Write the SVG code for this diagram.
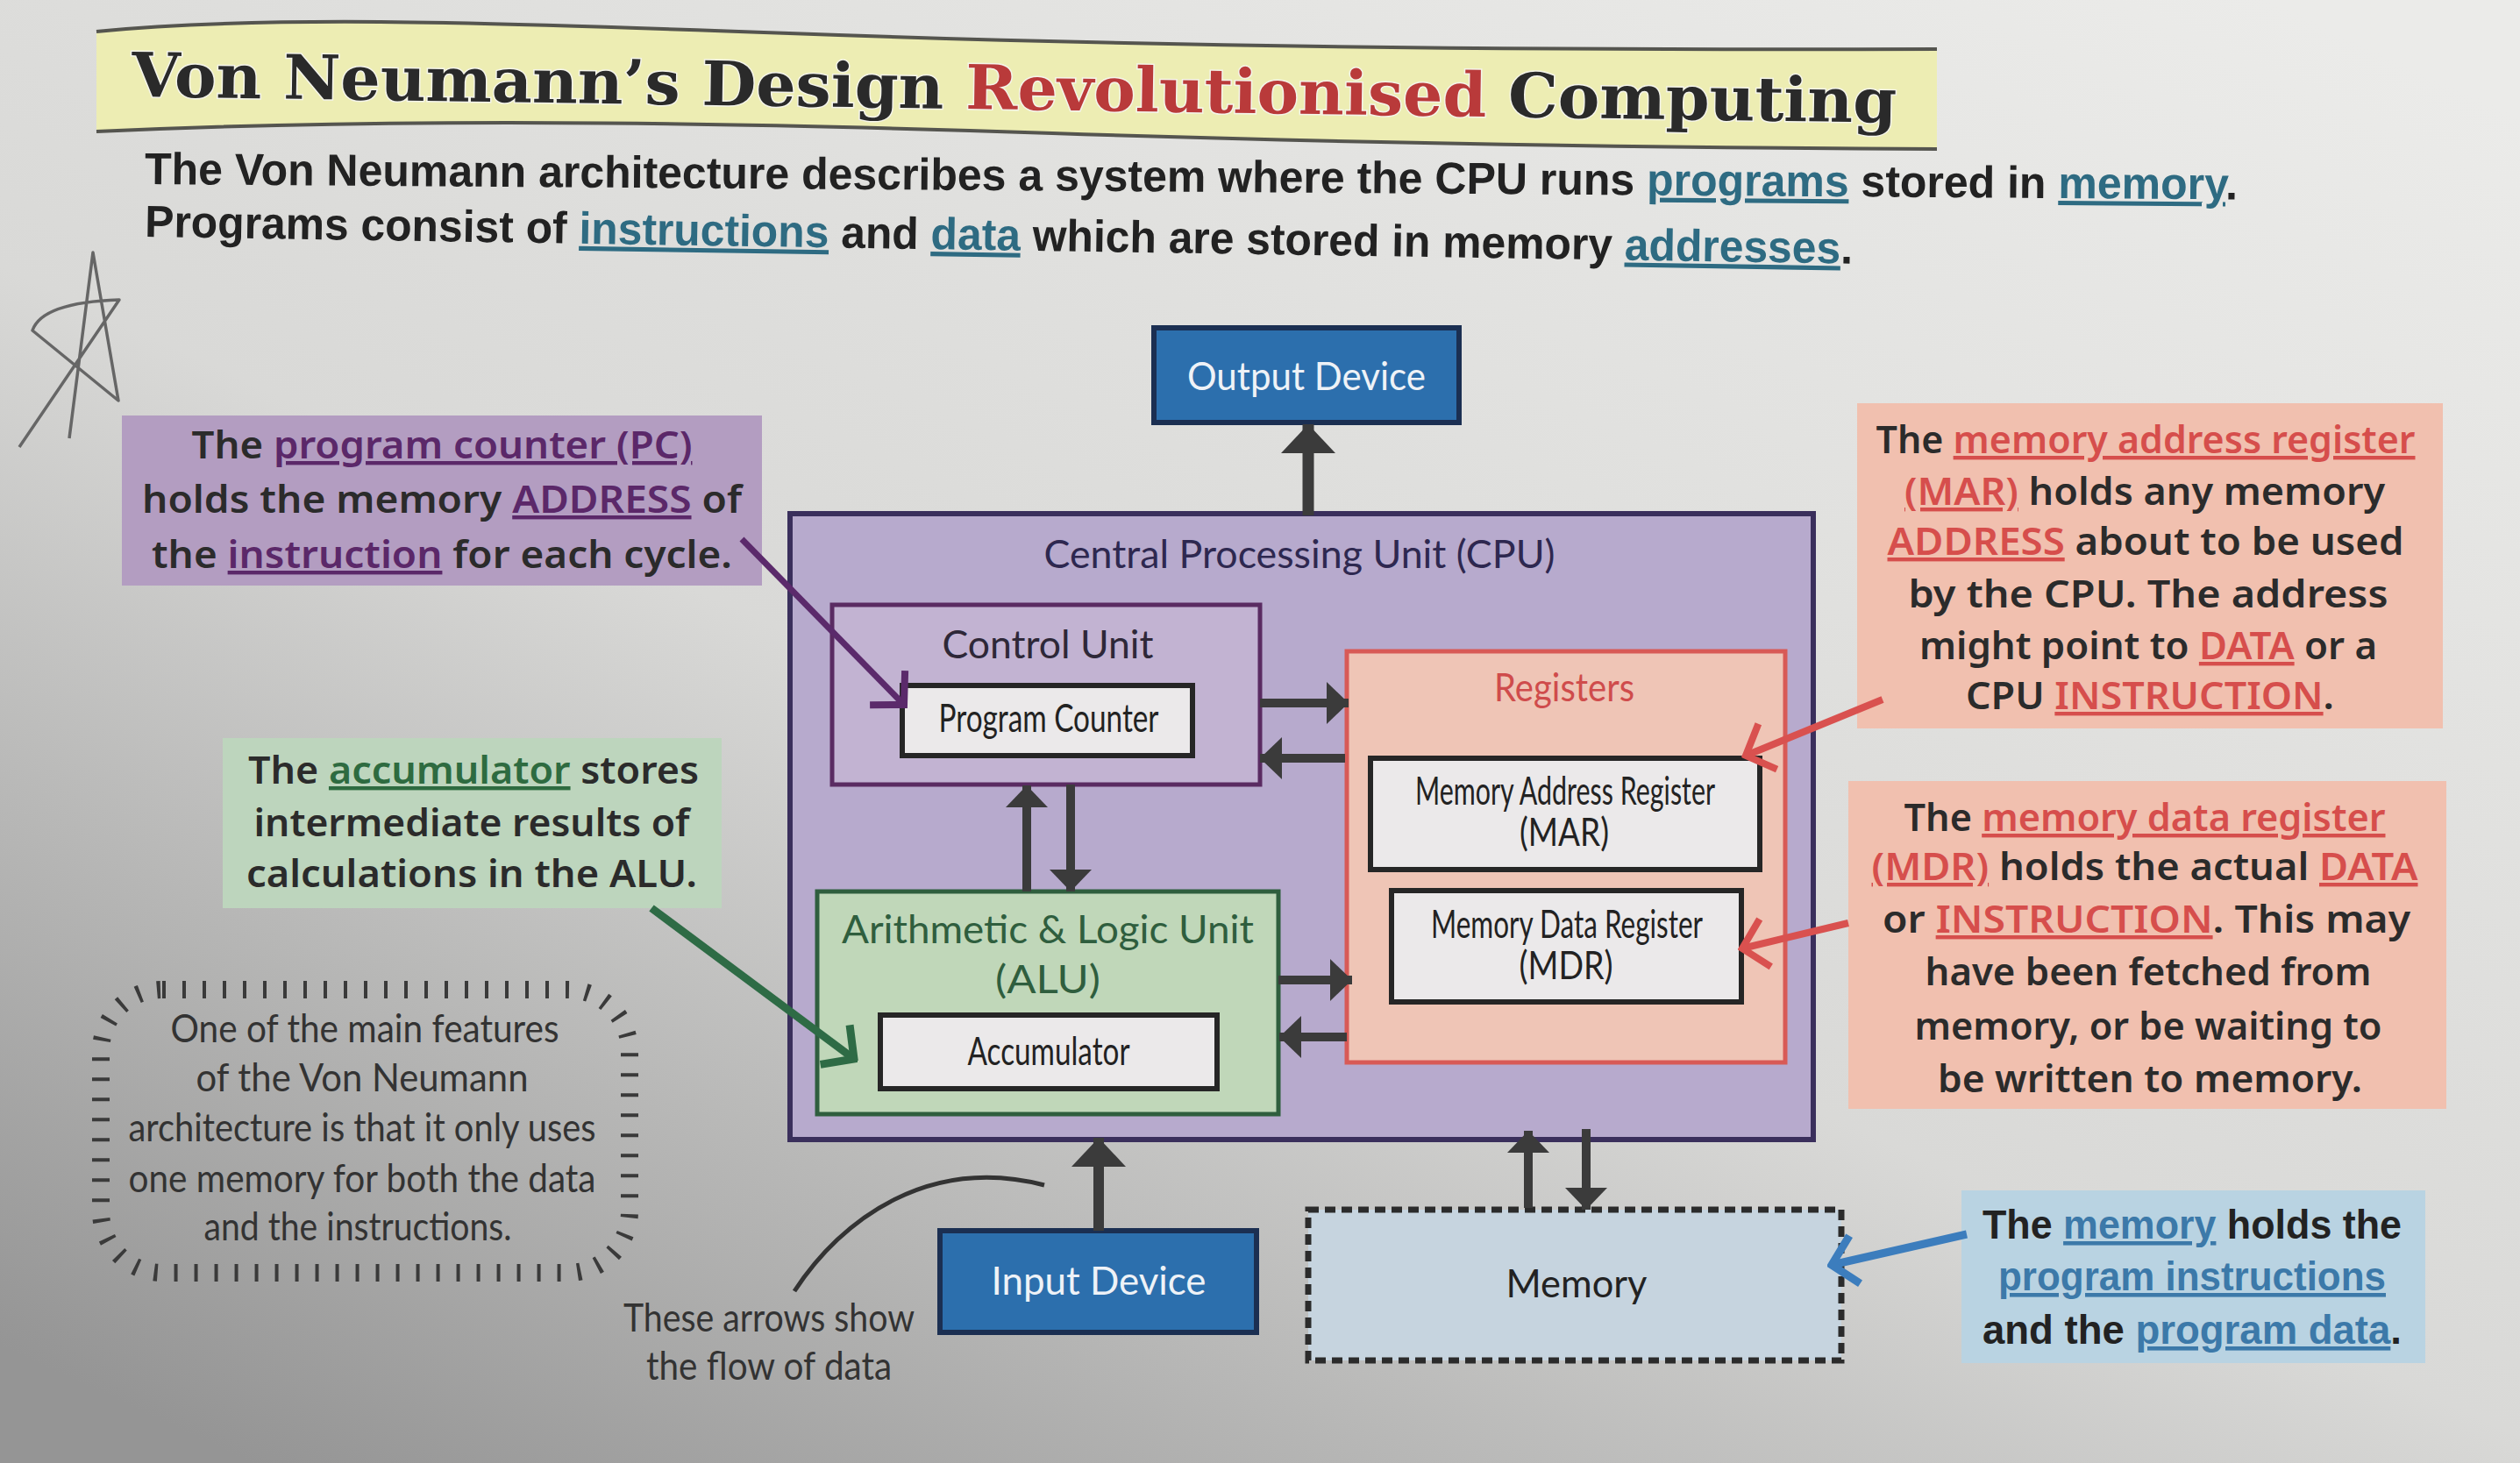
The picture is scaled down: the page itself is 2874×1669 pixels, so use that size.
<svg xmlns="http://www.w3.org/2000/svg" width="2874" height="1669" viewBox="0 0 2874 1669">
<defs>
<linearGradient id="bg" x1="0.9" y1="0" x2="0.1" y2="1">
<stop offset="0" stop-color="#ebebe9"/>
<stop offset="0.55" stop-color="#d9d9d7"/>
<stop offset="1" stop-color="#959595"/>
</linearGradient>
<marker id="ahBig" viewBox="0 0 33 62" refX="33" refY="31" markerWidth="33" markerHeight="62" orient="auto" markerUnits="userSpaceOnUse"><path d="M0,0 L33,31 L0,62 Z" fill="#3b3b3b"/></marker>
<marker id="ahSm" viewBox="0 0 25 48" refX="25" refY="24" markerWidth="25" markerHeight="48" orient="auto" markerUnits="userSpaceOnUse"><path d="M0,0 L25,24 L0,48 Z" fill="#3b3b3b"/></marker>
<marker id="chPurple" viewBox="-4 -4 36 64" refX="27" refY="28" markerWidth="36" markerHeight="64" orient="auto" markerUnits="userSpaceOnUse"><path d="M0,0 L27,28 L0,56" fill="none" stroke="#5b2a6b" stroke-width="8"/></marker>
<marker id="chGreen" viewBox="-4 -4 36 64" refX="27" refY="28" markerWidth="36" markerHeight="64" orient="auto" markerUnits="userSpaceOnUse"><path d="M0,0 L27,28 L0,56" fill="none" stroke="#2e6b45" stroke-width="9"/></marker>
<marker id="chRed" viewBox="-4 -4 36 64" refX="27" refY="28" markerWidth="36" markerHeight="64" orient="auto" markerUnits="userSpaceOnUse"><path d="M0,0 L27,28 L0,56" fill="none" stroke="#d9514f" stroke-width="8"/></marker>
<marker id="chBlue" viewBox="-4 -4 36 64" refX="27" refY="28" markerWidth="36" markerHeight="64" orient="auto" markerUnits="userSpaceOnUse"><path d="M0,0 L27,28 L0,56" fill="none" stroke="#3c7dbd" stroke-width="9"/></marker>
<style>
.lbl{font-family:Lato,"Open Sans",sans-serif;font-weight:400;font-size:44px;text-anchor:middle}
.cal{font-family:"Noto Sans","Open Sans",sans-serif;font-weight:600;font-size:44px;fill:#2b2b2b;text-anchor:middle}
.cond{font-family:"Liberation Sans",Arial,sans-serif;font-weight:700;fill:#222}
.u{text-decoration:underline;text-decoration-thickness:4px}
.box{stroke-width:5}
.flow{stroke:#3b3b3b;fill:none}
.dev{fill:#2c6fad;stroke:#1b2f52;stroke-width:6}
.devt{fill:#eef2f7}
.reg{fill:#ebe9ea;stroke:#262626;stroke-width:6}
</style>
</defs>

<rect x="0" y="0" width="2874" height="1669" fill="url(#bg)"/>

<g id="doodle">
<path d="M79,500 L106,288 L135,457 L37,377 Q48,345 136,342 L22,510" fill="none" stroke="#666" stroke-width="3.5" stroke-linejoin="round"/>
</g>

<g id="title">
<path d="M110,36 C300,18 520,24 900,38 S1700,58 2209,56 L2209,170 C1800,168 1500,162 1200,152 S500,132 110,150 Z" fill="#ededb3"/>
<path d="M110,36 C300,18 520,24 900,38 S1700,58 2209,56" fill="none" stroke="#55554f" stroke-width="4"/>
<path d="M2209,170 C1800,168 1500,162 1200,152 S500,132 110,150" fill="none" stroke="#55554f" stroke-width="4"/>
<text x="150" y="110" transform="rotate(0.85 150 110)" textLength="2013" lengthAdjust="spacingAndGlyphs" style="font-family:'DejaVu Serif',serif;font-weight:700;font-size:70px;fill:#2a2a2a;stroke:#f4f4ea;stroke-width:3;paint-order:stroke">Von Neumann’s Design <tspan fill="#b93a3a">Revolutionised</tspan> Computing</text>
</g>

<g id="intro">
<text class="cond" x="165" y="210" transform="rotate(0.42 165 210)" font-size="51" textLength="2387" lengthAdjust="spacingAndGlyphs">The Von Neumann architecture describes a system where the CPU runs <tspan class="u" fill="#2e6b82">programs</tspan> stored in <tspan class="u" fill="#2e6b82">memory</tspan>.</text>
<text class="cond" x="165" y="270" transform="rotate(0.9 165 270)" font-size="51" textLength="1948" lengthAdjust="spacingAndGlyphs">Programs consist of <tspan class="u" fill="#2e6b82">instructions</tspan> and <tspan class="u" fill="#2e6b82">data</tspan> which are stored in memory <tspan class="u" fill="#2e6b82">addresses</tspan>.</text>
</g>

<g id="callout-pc">
<rect x="139" y="474" width="730" height="194" fill="#b39dc1"/>
<text class="cal" x="504" y="523" textLength="571" lengthAdjust="spacingAndGlyphs">The <tspan class="u" fill="#5b2869">program counter (PC)</tspan></text>
<text class="cal" x="504" y="585" textLength="684" lengthAdjust="spacingAndGlyphs">holds the memory <tspan class="u" fill="#5b2869">ADDRESS</tspan> of</text>
<text class="cal" x="504" y="648" textLength="662" lengthAdjust="spacingAndGlyphs">the <tspan class="u" fill="#5b2869">instruction</tspan> for each cycle.</text>
</g>

<g id="callout-acc">
<rect x="254" y="842" width="569" height="194" fill="#bdd5bd"/>
<text class="cal" x="540" y="894" textLength="514" lengthAdjust="spacingAndGlyphs">The <tspan class="u" fill="#2e6b40">accumulator</tspan> stores</text>
<text class="cal" x="538" y="954" textLength="497" lengthAdjust="spacingAndGlyphs">intermediate results of</text>
<text class="cal" x="538" y="1012" textLength="514" lengthAdjust="spacingAndGlyphs">calculations in the ALU.</text>
</g>

<g id="callout-mar">
<rect x="2118" y="460" width="668" height="371" fill="#f1c0af"/>
<text class="cal" x="2447" y="517" textLength="615" lengthAdjust="spacingAndGlyphs">The <tspan class="u" fill="#d64e4c">memory address register</tspan></text>
<text class="cal" x="2446" y="576" textLength="548" lengthAdjust="spacingAndGlyphs"><tspan class="u" fill="#d64e4c">(MAR)</tspan> holds any memory</text>
<text class="cal" x="2447" y="633" textLength="589" lengthAdjust="spacingAndGlyphs"><tspan class="u" fill="#d64e4c">ADDRESS</tspan> about to be used</text>
<text class="cal" x="2450" y="693" textLength="547" lengthAdjust="spacingAndGlyphs">by the CPU. The address</text>
<text class="cal" x="2450" y="752" textLength="522" lengthAdjust="spacingAndGlyphs">might point to <tspan class="u" fill="#d64e4c">DATA</tspan> or a</text>
<text class="cal" x="2452" y="809" textLength="420" lengthAdjust="spacingAndGlyphs">CPU <tspan class="u" fill="#d64e4c">INSTRUCTION</tspan>.</text>
</g>

<g id="callout-mdr">
<rect x="2108" y="891" width="682" height="374" fill="#f1c0af"/>
<text class="cal" x="2446" y="948" textLength="549" lengthAdjust="spacingAndGlyphs">The <tspan class="u" fill="#d64e4c">memory data register</tspan></text>
<text class="cal" x="2446" y="1004" textLength="623" lengthAdjust="spacingAndGlyphs"><tspan class="u" fill="#d64e4c">(MDR)</tspan> holds the actual <tspan class="u" fill="#d64e4c">DATA</tspan></text>
<text class="cal" x="2448" y="1064" textLength="602" lengthAdjust="spacingAndGlyphs">or <tspan class="u" fill="#d64e4c">INSTRUCTION</tspan>. This may</text>
<text class="cal" x="2450" y="1124" textLength="509" lengthAdjust="spacingAndGlyphs">have been fetched from</text>
<text class="cal" x="2450" y="1186" textLength="533" lengthAdjust="spacingAndGlyphs">memory, or be waiting to</text>
<text class="cal" x="2452" y="1246" textLength="484" lengthAdjust="spacingAndGlyphs">be written to memory.</text>
</g>

<g id="callout-memory">
<rect x="2237" y="1358" width="529" height="197" fill="#b9d3e2"/>
<text class="cond" x="2500" y="1413" font-size="46" text-anchor="middle" textLength="478" lengthAdjust="spacingAndGlyphs">The <tspan class="u" fill="#3c79a9">memory</tspan> holds the</text>
<text class="cond" x="2500" y="1472" font-size="46" text-anchor="middle" textLength="442" lengthAdjust="spacingAndGlyphs"><tspan class="u" fill="#3c79a9">program instructions</tspan></text>
<text class="cond" x="2500" y="1533" font-size="46" text-anchor="middle" textLength="478" lengthAdjust="spacingAndGlyphs">and the <tspan class="u" fill="#3c79a9">program data</tspan>.</text>
</g>

<g id="node-output">
<rect class="dev" x="1316" y="374" width="348" height="108"/>
<text class="lbl devt" x="1490" y="445" textLength="272" lengthAdjust="spacingAndGlyphs">Output Device</text>
</g>

<g id="node-cpu">
<rect x="901" y="586" width="1167" height="714" fill="#b7aacd" stroke="#3a2f5c" stroke-width="6"/>
<text class="lbl" x="1482" y="648" fill="#2e2850" textLength="583" lengthAdjust="spacingAndGlyphs">Central Processing Unit (CPU)</text>
</g>

<g id="node-cu">
<rect class="box" x="949" y="690" width="488" height="205" fill="#c2b3d2" stroke="#5a2b62"/>
<text class="lbl" x="1195" y="751" fill="#2e2838" textLength="241" lengthAdjust="spacingAndGlyphs">Control Unit</text>
</g>

<g id="node-pc">
<rect class="reg" x="1029" y="782" width="331" height="80"/>
<text class="lbl" x="1196" y="835" font-size="38" fill="#222" textLength="251" lengthAdjust="spacingAndGlyphs">Program Counter</text>
</g>

<g id="node-registers">
<rect class="box" x="1536" y="743" width="500" height="469" fill="#efc5b6" stroke="#d85a56"/>
<text class="lbl" x="1784" y="800" fill="#cf4c4c" textLength="160" lengthAdjust="spacingAndGlyphs">Registers</text>
</g>

<g id="node-mar">
<rect class="reg" x="1563" y="865" width="444" height="127"/>
<text class="lbl" x="1785" y="918" font-size="36" fill="#222" textLength="342" lengthAdjust="spacingAndGlyphs">Memory Address Register</text>
<text class="lbl" x="1784" y="965" font-size="36" fill="#222" textLength="102" lengthAdjust="spacingAndGlyphs">(MAR)</text>
</g>

<g id="node-mdr">
<rect class="reg" x="1587" y="1016" width="399" height="127"/>
<text class="lbl" x="1787" y="1070" font-size="36" fill="#222" textLength="310" lengthAdjust="spacingAndGlyphs">Memory Data Register</text>
<text class="lbl" x="1786" y="1117" font-size="36" fill="#222" textLength="107" lengthAdjust="spacingAndGlyphs">(MDR)</text>
</g>

<g id="node-alu">
<rect class="box" x="932" y="1017" width="526" height="254" fill="#c0d7b9" stroke="#2f5e3e"/>
<text class="lbl" x="1195" y="1076" fill="#2f5e3e" textLength="470" lengthAdjust="spacingAndGlyphs">Arithmetic &amp; Logic Unit</text>
<text class="lbl" x="1195" y="1133" fill="#2f5e3e" textLength="120" lengthAdjust="spacingAndGlyphs">(ALU)</text>
</g>

<g id="node-acc">
<rect class="reg" x="1004" y="1158" width="384" height="84" fill="#e6e8e3"/>
<text class="lbl" x="1196" y="1215" font-size="38" fill="#222" textLength="185" lengthAdjust="spacingAndGlyphs">Accumulator</text>
</g>

<g id="node-input">
<rect class="dev" x="1072" y="1404" width="361" height="116"/>
<text class="lbl devt" x="1253" y="1477" textLength="245" lengthAdjust="spacingAndGlyphs">Input Device</text>
</g>

<g id="node-memory">
<rect x="1492" y="1380" width="608" height="172" fill="#c6d4df" stroke="#2b2b2b" stroke-width="7" stroke-dasharray="12 7"/>
<text class="lbl" x="1798" y="1480" fill="#222" textLength="161" lengthAdjust="spacingAndGlyphs">Memory</text>
</g>

<g id="note-feature">
<rect x="115" y="1129" width="603" height="323" rx="70" fill="none" stroke="#3a3a3a" stroke-width="20" stroke-dasharray="4 19"/>
<text class="lbl" x="416" y="1189" fill="#333" textLength="443" lengthAdjust="spacingAndGlyphs">One of the main features</text>
<text class="lbl" x="413" y="1245" fill="#333" textLength="379" lengthAdjust="spacingAndGlyphs">of the Von Neumann</text>
<text class="lbl" x="413" y="1302" fill="#333" textLength="533" lengthAdjust="spacingAndGlyphs">architecture is that it only uses</text>
<text class="lbl" x="413" y="1360" fill="#333" textLength="533" lengthAdjust="spacingAndGlyphs">one memory for both the data</text>
<text class="lbl" x="408" y="1415" fill="#333" textLength="351" lengthAdjust="spacingAndGlyphs">and the instructions.</text>
</g>

<g id="note-arrows">
<text class="lbl" x="877" y="1519" fill="#333" textLength="332" lengthAdjust="spacingAndGlyphs">These arrows show</text>
<text class="lbl" x="877" y="1574" fill="#333" textLength="280" lengthAdjust="spacingAndGlyphs">the flow of data</text>
</g>

<g id="connectors">
<line class="flow" x1="1492" y1="588" x2="1492" y2="484" stroke-width="13" marker-end="url(#ahBig)"/>
<line class="flow" x1="1253" y1="1404" x2="1253" y2="1298" stroke-width="12" marker-end="url(#ahBig)"/>
<line class="flow" x1="1743" y1="1378" x2="1743" y2="1290" stroke-width="10" marker-end="url(#ahSm)"/>
<line class="flow" x1="1809" y1="1288" x2="1809" y2="1380" stroke-width="10" marker-end="url(#ahSm)"/>
<line class="flow" x1="1437" y1="802" x2="1538" y2="802" stroke-width="10" marker-end="url(#ahSm)"/>
<line class="flow" x1="1534" y1="865" x2="1437" y2="865" stroke-width="10" marker-end="url(#ahSm)"/>
<line class="flow" x1="1171" y1="1017" x2="1171" y2="896" stroke-width="10" marker-end="url(#ahSm)"/>
<line class="flow" x1="1221" y1="895" x2="1221" y2="1017" stroke-width="10" marker-end="url(#ahSm)"/>
<line class="flow" x1="1458" y1="1118" x2="1542" y2="1118" stroke-width="10" marker-end="url(#ahSm)"/>
<line class="flow" x1="1536" y1="1183" x2="1459" y2="1183" stroke-width="10" marker-end="url(#ahSm)"/>
<line x1="846" y1="615" x2="1031" y2="804" stroke="#5b2a6b" stroke-width="7" marker-end="url(#chPurple)"/>
<line x1="743" y1="1036" x2="974" y2="1208" stroke="#2e6b45" stroke-width="9" marker-end="url(#chGreen)"/>
<line x1="2147" y1="798" x2="1991" y2="862" stroke="#d9514f" stroke-width="8" marker-end="url(#chRed)"/>
<line x1="2108" y1="1053" x2="1987" y2="1082" stroke="#d9514f" stroke-width="8" marker-end="url(#chRed)"/>
<line x1="2243" y1="1408" x2="2089" y2="1443" stroke="#3c7dbd" stroke-width="9" marker-end="url(#chBlue)"/>
<path d="M906,1473 C960,1390 1060,1318 1191,1352" fill="none" stroke="#333" stroke-width="5"/>
</g>
</svg>
